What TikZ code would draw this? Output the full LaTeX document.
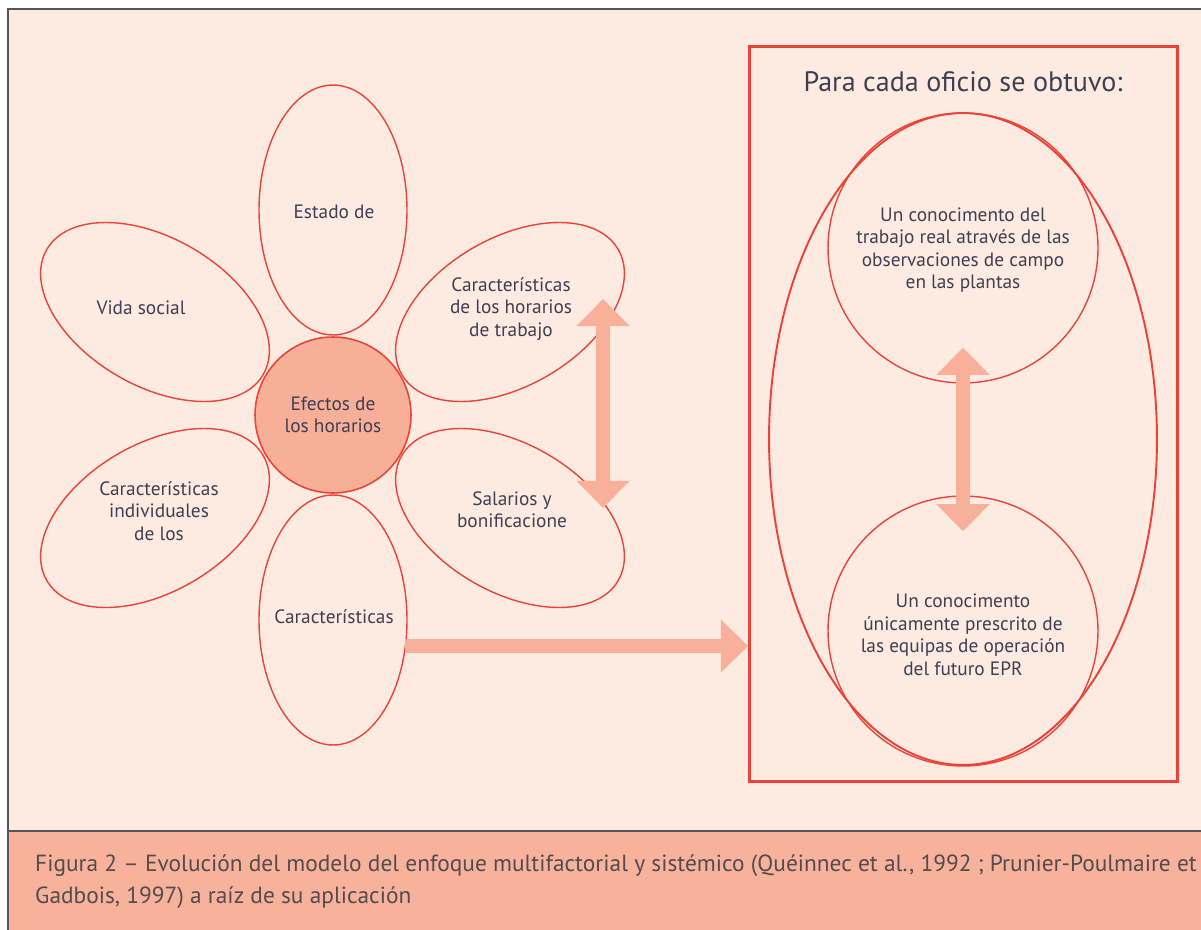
\documentclass[tikz,border=0pt]{standalone}
\usepackage{fontspec}
\setmainfont{PT Sans}
\usepackage{tikz}
\usetikzlibrary{arrows.meta,positioning,shapes.geometric}
\definecolor{bgpeach}{HTML}{FDEBE2}
\definecolor{bandsalmon}{HTML}{F8B29B}
\definecolor{linered}{HTML}{EC4338}
\definecolor{arrowsalmon}{HTML}{F8B09A}
\definecolor{corefill}{HTML}{F7AF97}
\definecolor{labeltext}{HTML}{3E4052}
\definecolor{captiontext}{HTML}{524C4E}
\definecolor{framegray}{HTML}{555555}

\begin{document}
\begin{tikzpicture}[
    x=0.02cm, y=-0.02cm,
    every node/.style={font=\fontsize{11}{12.7}\selectfont, text=labeltext},
    petal/.style={
        ellipse,
        draw=linered,
        line width=0.8pt,
        minimum width=2.96cm,
        minimum height=5cm,
        inner sep=0pt
    },
    core/.style={
        circle,
        draw=linered,
        fill=corefill,
        line width=0.9pt,
        minimum size=3.12cm
    },
    bigcirc/.style={
        circle,
        draw=linered,
        line width=0.8pt,
        minimum size=5.4cm
    },
    fat/.style={
        arrowsalmon,
        line width=8.5pt,
        >={Triangle[length=15.5pt,width=29.5pt]}
    }
]
    % === BACKGROUND AND CAPTION BAND ===
    \useasboundingbox (0,0) rectangle (1201,930);
    \fill[bgpeach] (8,9) rectangle (1201,831);
    \fill[bandsalmon] (8,831) rectangle (1201,930);
    \draw[framegray, line width=1.2pt] (8,930) -- (8,9) -- (1201,9);
    \draw[framegray, line width=1.2pt] (8,831) -- (1201,831);

    % Caption
    \node[anchor=west, text=captiontext, font=\fontsize{13.3}{16}\selectfont] (cap1) at (29,866)
        {Figura 2 – Evolución del modelo del enfoque multifactorial y sistémico (Quéinnec et al., 1992 ; Prunier-Poulmaire et};
    \node[anchor=west, text=captiontext, font=\fontsize{13.3}{16}\selectfont] (cap2) at (29,898)
        {Gadbois, 1997) a raíz de su aplicación};

    % === FLOWER ===
    % Petals (shape only, labels set apart so they stay upright)
    \foreach \name/\x/\y/\rot in {estado/333/210/0, vida/155/312/60, salarios/510/518/60,
                                  individ/155/518/-60, horarios/510/312/-60, caract/333/620/0} {
        \node[petal, rotate=\rot] (\name) at (\x,\y) {};
    }

    % Petal labels
    \node (estadotxt) at (334,212) {Estado de};
    \node (vidatxt) at (141,308) {Vida social};
    \node[align=center] (horariostxt) at (511,309) {Características\\de los horarios\\de trabajo};
    \node[align=center] (salariostxt) at (512,510) {Salarios y\\bonificacione};
    \node[align=center] (individtxt) at (159,511) {Características\\individuales\\de los};
    \node (caracttxt) at (334,617) {Características};

    % Centre
    \node[core, align=center] (efectos) at (333,415) {Efectos de\\los horarios};

    % Double arrow beside the right petals
    \coordinate (upa) at (603,299);
    \coordinate (downa) at (603,508);
    \draw[fat, <->] (upa) -- (downa);

    % === RESULT BOX ===
    \node[rectangle, draw=linered, line width=1.7pt, minimum width=8.56cm, minimum height=14.72cm]
        (box) at (963.5,414) {};
    \node[font=\fontsize{16}{19}\selectfont] (title) at (963,82) {Para cada oficio se obtuvo:};

    \node[ellipse, draw=linered, line width=1.1pt, minimum width=7.76cm, minimum height=13.04cm]
        (outer) at (963,439) {};

    \node[bigcirc] (up) at (963,248) {};
    \node[align=center, font=\fontsize{11}{12.8}\selectfont] (uptxt) at (963,250)
        {Un conocimento del\\trabajo real através de las\\observaciones de campo\\en las plantas};

    \node[bigcirc] (low) at (963,631) {};
    \node[align=center, font=\fontsize{11}{12.8}\selectfont] (lowtxt) at (963,635)
        {Un conocimento\\únicamente prescrito de\\las equipas de operación\\del futuro EPR};

    \draw[fat, <->] ([yshift=0.72cm]up.south) -- ([yshift=-0.72cm]low.north);

    % Arrow from the flower to the box
    \coordinate (hstart) at (405,646);
    \draw[fat, ->] (hstart) -- (hstart -| box.west);
\end{tikzpicture}
\end{document}
